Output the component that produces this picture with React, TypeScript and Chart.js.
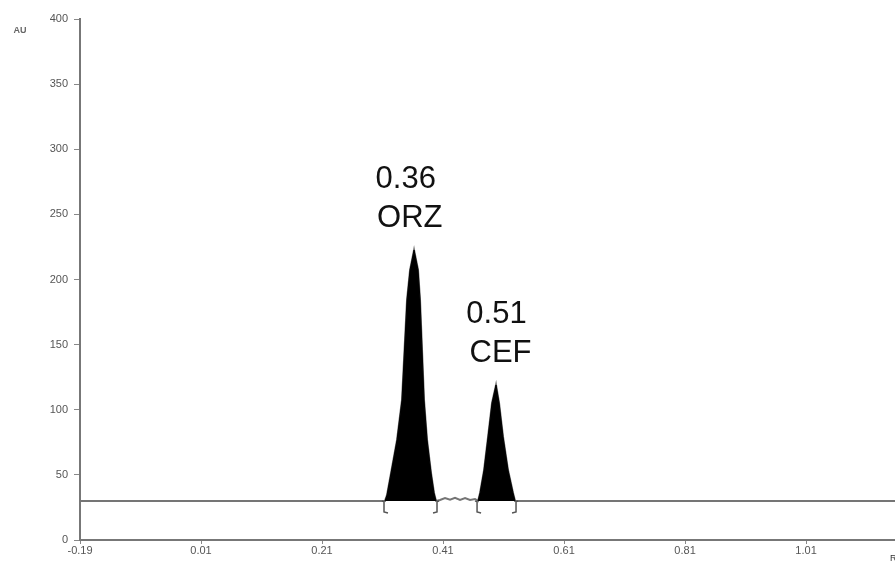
import React, { useEffect, useRef } from "react";
import { Chart, registerables } from "chart.js";

Chart.register(...registerables);

// Axis ticks
const rfTicks = [-0.19, 0.01, 0.21, 0.41, 0.61, 0.81, 1.01];
const auTicks = [0, 50, 100, 150, 200, 250, 300, 350, 400];
const rfMin = -0.19;
const rfMax = 1.157;
const auMax = 400;
const baselineAu = 30;

// Peak 1 (ORZ)
const peak1Rf = [0.3141, 0.3174, 0.3241, 0.334, 0.3422, 0.3505, 0.3555, 0.3621, 0.3687, 0.372, 0.3786, 0.3836, 0.3902, 0.3951, 0.3984];
const peak1Au = [30, 34.5, 51.4, 76.8, 107.5, 184.3, 207.3, 222.6, 207.3, 184.3, 107.5, 76.8, 51.4, 36.1, 30];

// Noise between peaks
const gapRf = [0.405, 0.4133, 0.4216, 0.4298, 0.4381, 0.4464, 0.4546, 0.4629];
const gapAu = [30.7, 32.2, 30.9, 32.4, 30.7, 32.2, 30.7, 31.5];

// Peak 2 (CEF)
const peak2Rf = [0.4679, 0.4712, 0.4778, 0.4844, 0.491, 0.4976, 0.5026, 0.5092, 0.5174, 0.5257, 0.529];
const peak2Au = [30, 36.1, 53.7, 79.1, 105.2, 119.0, 105.2, 79.1, 53.7, 36.1, 30];

// Peak labels
const peakRfLabels = ["0.36", "0.51"];
const peakNames = ["ORZ", "CEF"];

const toPts = (xs: number[], ys: number[]) => xs.map((x, i) => ({ x, y: ys[i] }));

const peaks = [
  { rf: peak1Rf, au: peak1Au },
  { rf: peak2Rf, au: peak2Au },
];

const tracePts = [
  { x: rfMin, y: baselineAu },
  ...toPts(peak1Rf, peak1Au),
  ...toPts(gapRf, gapAu),
  ...toPts(peak2Rf, peak2Au),
  { x: rfMax, y: baselineAu },
];

const FONT = "'Liberation Sans', Arial, sans-serif";

const overlayPlugin = {
  id: "overlay",
  afterDatasetsDraw(chart: any) {
    const ctx = chart.ctx;
    const xs = chart.scales.x;
    const ys = chart.scales.y;
    ctx.save();
    // integration brackets
    ctx.strokeStyle = "#555";
    ctx.lineWidth = 1.5;
    const by = ys.getPixelForValue(baselineAu);
    peaks.forEach((p) => {
      const l = xs.getPixelForValue(p.rf[0]);
      const r = xs.getPixelForValue(p.rf[p.rf.length - 1]);
      [[l, 1], [r, -1]].forEach(([px, dir]) => {
        ctx.beginPath();
        ctx.moveTo(px - dir * 3, by);
        ctx.lineTo(px - dir * 1, by + 1);
        ctx.lineTo(px - dir * 1, by + 11);
        ctx.lineTo(px + dir * 3, by + 12);
        ctx.stroke();
      });
    });
    // peak labels, anchored at the reported Rf value
    ctx.fillStyle = "#111";
    ctx.font = "31px " + FONT;
    ctx.textAlign = "center";
    ctx.textBaseline = "alphabetic";
    peaks.forEach((p, i) => {
      let mi = 0;
      p.au.forEach((v, k) => { if (v > p.au[mi]) mi = k; });
      const ay = ys.getPixelForValue(p.au[mi]);
      const lx = xs.getPixelForValue(parseFloat(peakRfLabels[i]));
      ctx.fillText(peakRfLabels[i], lx - 7, ay - 62);
      ctx.fillText(peakNames[i], lx - 3, ay - 23.5);
    });
    // axis titles
    ctx.fillStyle = "#666";
    ctx.font = "bold 9px " + FONT;
    ctx.textAlign = "center";
    ctx.textBaseline = "middle";
    ctx.fillText("AU", 20, 31);
    ctx.textAlign = "left";
    ctx.fillStyle = "#333";
    ctx.font = "9px " + FONT;
    ctx.fillText("Rf", 890, 559);
    ctx.restore();
  },
};

export default function App() {
  const ref = useRef<HTMLCanvasElement | null>(null);
  useEffect(() => {
    if (!ref.current) return;
    const chart = new Chart(ref.current, {
      type: "line",
      data: {
        datasets: [
          {
            data: toPts(peak1Rf, peak1Au),
            borderColor: "#000",
            backgroundColor: "#000",
            borderWidth: 1,
            pointRadius: 0,
            fill: { value: baselineAu },
            tension: 0,
          },
          {
            data: toPts(peak2Rf, peak2Au),
            borderColor: "#000",
            backgroundColor: "#000",
            borderWidth: 1,
            pointRadius: 0,
            fill: { value: baselineAu },
            tension: 0,
          },
          {
            data: tracePts,
            borderColor: "#757575",
            borderWidth: 2,
            pointRadius: 0,
            fill: false,
            tension: 0,
          },
        ],
      },
      options: {
        responsive: false,
        animation: false,
        layout: { padding: { top: 19, right: 0, left: 0, bottom: 0 } },
        plugins: { legend: { display: false }, tooltip: { enabled: false } },
        scales: {
          x: {
            type: "linear",
            min: rfMin,
            max: rfMax,
            afterBuildTicks: (s: any) => { s.ticks = rfTicks.map((v) => ({ value: v })); },
            afterFit: (s: any) => { s.height = 25; },
            grid: { drawOnChartArea: false, drawTicks: true, tickLength: 4, color: "#888" },
            border: { display: true, color: "#777", width: 2 },
            ticks: {
              color: "#555",
              font: { size: 11, family: FONT },
              padding: 0,
              maxRotation: 0,
              autoSkip: false,
              callback: (v: any) => Number(v).toFixed(2),
            },
          },
          y: {
            type: "linear",
            min: 0,
            max: auMax,
            afterBuildTicks: (s: any) => { s.ticks = auTicks.map((v) => ({ value: v })); },
            afterFit: (s: any) => { s.width = 80; },
            grid: { drawOnChartArea: false, drawTicks: true, tickLength: 6, color: "#888" },
            border: { display: true, color: "#777", width: 2 },
            ticks: {
              color: "#555",
              font: { size: 11, family: FONT },
              padding: 6,
              autoSkip: false,
            },
          },
        },
      },
      plugins: [overlayPlugin],
    } as any);
    return () => chart.destroy();
  }, []);
  return (
    <div style={{ position: "fixed", left: 0, top: 0, width: 895, height: 565, background: "#fff" }}>
      <canvas ref={ref} width={895} height={565} />
    </div>
  );
}
